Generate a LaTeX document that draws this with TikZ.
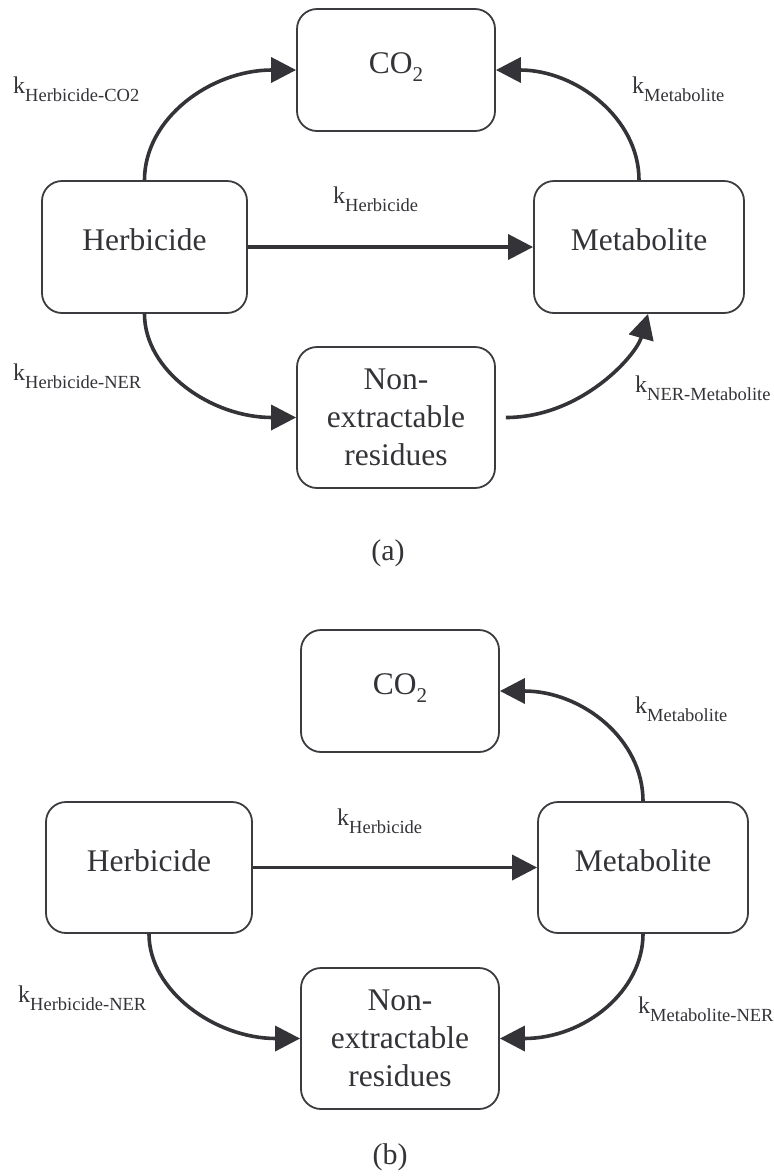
\documentclass[tikz,border=0pt]{standalone}
\usepackage{fontspec}
\setmainfont{Liberation Serif}
\usetikzlibrary{arrows.meta}
\definecolor{ink}{HTML}{333338}
\definecolor{boxline}{HTML}{3C3C40}
\newcommand{\klab}[1]{{\fontsize{24}{28}\selectfont k}\raisebox{-8pt}{\fontsize{18.5}{20}\selectfont #1}}
\newcommand{\cotwo}{CO\raisebox{-8pt}{\fontsize{21}{24}\selectfont 2}}
\tikzset{
  boxbase/.style={draw=boxline, line width=1.8pt, rounded corners=20pt, inner sep=0pt,
    text=ink, align=center, font=\fontsize{31.5}{38}\selectfont},
  onebox/.style={boxbase, text height=21pt, text depth=14pt},
  conn/.style={draw=ink, line width=3.6pt, -{Triangle[length=25pt,width=25pt]}},
  klabel/.style={anchor=base west, text=ink, inner sep=0pt},
  panellabel/.style={anchor=base, text=ink, inner sep=0pt, font=\fontsize{30}{34}\selectfont}
}
\begin{document}
\begin{tikzpicture}[x=1pt,y=-1pt]
\useasboundingbox (0,0) rectangle (774,1176);
% ---------- (a) ----------
\node[onebox, minimum width=198pt, minimum height=122pt] (coA) at (396,70) {\cotwo};
\node[onebox, minimum width=205pt, minimum height=132pt] (hA) at (144.5,247) {Herbicide};
\node[onebox, minimum width=210pt, minimum height=132pt] (mA) at (639,247) {Metabolite};
\node[boxbase, minimum width=198pt, minimum height=141pt] (nA) at (396,417.5) {Non-\\extractable\\residues};
\coordinate (nAout) at ([xshift=10pt]nA.east);
\coordinate (mAin) at ([xshift=9pt]mA.south);

\draw[conn] (hA.north) .. controls +(0,-62) and +(-85,0) .. (coA.west);
\draw[conn] (mA.north) .. controls +(0,-62) and +(80,0) .. (coA.east);
\draw[conn] (hA.east) -- (mA.west);
\draw[conn] (hA.south) .. controls +(0,57) and +(-85,0) .. (nA.west);
\draw[conn] (nAout) .. controls +(75,0) and +(-12,42) .. (mAin);

\node[klabel] (kA1) at (13,93) {\klab{Herbicide-CO2}};
\node[klabel] (kA2) at (333,203) {\klab{Herbicide}};
\node[klabel] (kA3) at (632,93) {\klab{Metabolite}};
\node[klabel] (kA4) at (13,380) {\klab{Herbicide-NER}};
\node[klabel] (kA5) at (635,392) {\klab{NER-Metabolite}};
\node[panellabel] (capA) at (388,560) {(a)};

% ---------- (b) ----------
\node[onebox, minimum width=198pt, minimum height=122pt] (coB) at (400,691) {\cotwo};
\node[onebox, minimum width=206pt, minimum height=131pt] (hB) at (149,867.5) {Herbicide};
\node[onebox, minimum width=210pt, minimum height=131pt] (mB) at (643,867.5) {Metabolite};
\node[boxbase, minimum width=198pt, minimum height=141pt] (nB) at (400,1038.5) {Non-\\extractable\\residues};

\draw[conn] (mB.north) .. controls +(0,-62) and +(82,0) .. (coB.east);
\draw[conn] (hB.east) -- (mB.west);
\draw[conn] (hB.south) .. controls +(0,57) and +(-85,0) .. (nB.west);
\draw[conn] (mB.south) .. controls +(0,57) and +(85,0) .. (nB.east);

\node[klabel] (kB2) at (337,825) {\klab{Herbicide}};
\node[klabel] (kB3) at (635,713) {\klab{Metabolite}};
\node[klabel] (kB4) at (18,1002) {\klab{Herbicide-NER}};
\node[klabel] (kB5) at (638,1013) {\klab{Metabolite-NER}};
\node[panellabel] (capB) at (390,1164) {(b)};
\end{tikzpicture}
\end{document}
